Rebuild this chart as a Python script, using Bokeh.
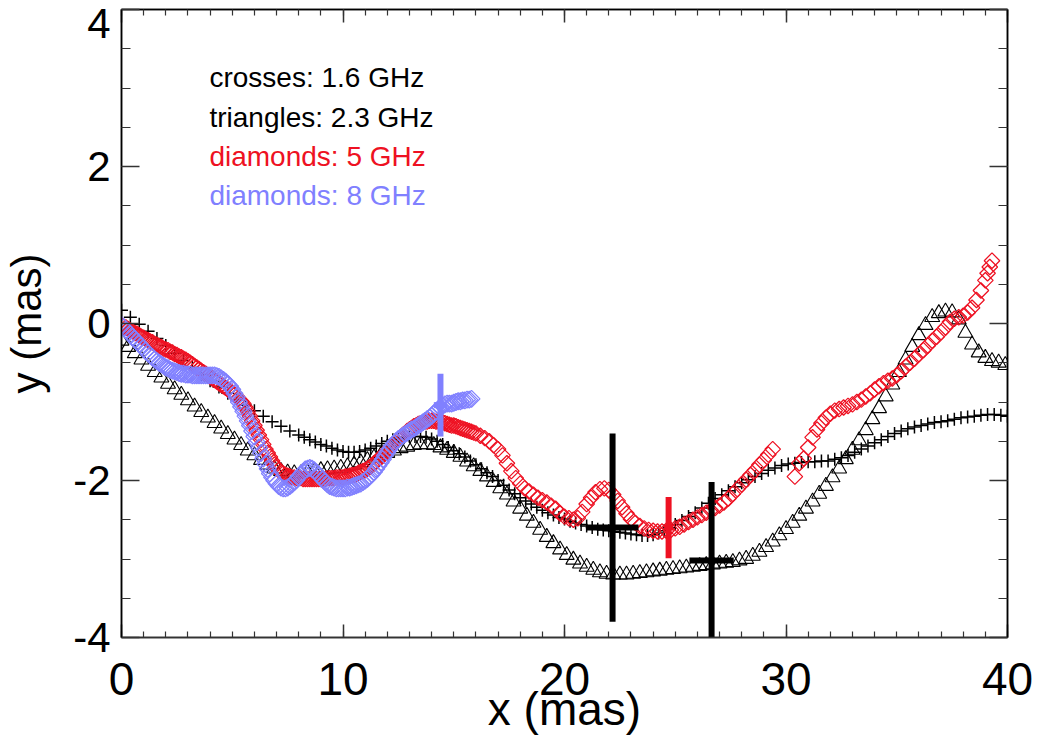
import math
from bokeh.plotting import figure
from bokeh.models import (LinearAxis, Range1d, ColumnDataSource,
                          SingleIntervalTicker, FixedTicker, CustomLabelingPolicy)
from bokeh.core.properties import value
from bokeh.embed import file_html
from bokeh.resources import INLINE

# ---------------- data ----------------
# 1.6 GHz (crosses)
cross_x = [0.0, 0.4, 0.8, 1.2, 1.6, 2.0, 2.4, 2.8, 3.2, 3.6,
           4.0, 4.4, 4.8, 5.2, 5.6, 6.0, 6.4, 6.8, 7.2, 7.6,
           8.0, 8.25, 8.5, 8.75, 9.0, 9.25, 9.5, 9.75, 10.0, 10.25,
           10.5, 10.75, 11.0, 11.25, 11.5, 11.75, 12.0, 12.25, 12.5, 12.75,
           13.0, 13.25, 13.5, 13.75, 14.0, 14.25, 14.5, 14.75, 15.0, 15.25,
           15.5, 15.75, 16.0, 16.25, 16.5, 16.75, 17.0, 17.25, 17.5, 17.75,
           18.0, 18.25, 18.5, 18.75, 19.0, 19.25, 19.5, 19.75, 20.0, 20.25,
           20.5, 20.75, 21.0, 21.25, 21.5, 21.75, 22.0, 22.25, 22.5, 22.75,
           23.0, 23.25, 23.5, 23.75, 24.0, 24.25, 24.5, 24.75, 25.0, 25.3,
           25.6, 25.9, 26.2, 26.5, 26.8, 27.1, 27.4, 27.7, 28.0, 28.3,
           28.6, 28.9, 29.2, 29.5, 29.8, 30.1, 30.4, 30.7, 31.0, 31.3,
           31.6, 31.9, 32.2, 32.5, 32.8, 33.1, 33.4, 33.7, 34.0, 34.3,
           34.6, 34.9, 35.2, 35.5, 35.8, 36.1, 36.4, 36.7, 37.0, 37.3,
           37.6, 37.9, 38.2, 38.5, 38.8, 39.1, 39.4, 39.7, 40.0]
cross_y = [0.17, 0.08, -0.01, -0.10, -0.19, -0.28, -0.38, -0.47, -0.56, -0.65,
           -0.73, -0.81, -0.89, -0.97, -1.04, -1.11, -1.18, -1.25, -1.31, -1.37,
           -1.42, -1.45, -1.48, -1.51, -1.54, -1.56, -1.59, -1.61, -1.63, -1.64,
           -1.64, -1.63, -1.61, -1.59, -1.56, -1.53, -1.50, -1.48, -1.46, -1.45,
           -1.44, -1.44, -1.44, -1.45, -1.47, -1.50, -1.54, -1.58, -1.62, -1.66,
           -1.70, -1.75, -1.80, -1.85, -1.90, -1.95, -2.00, -2.06, -2.12, -2.17,
           -2.22, -2.26, -2.30, -2.34, -2.38, -2.41, -2.44, -2.47, -2.49, -2.52,
           -2.54, -2.56, -2.58, -2.60, -2.62, -2.63, -2.64, -2.65, -2.66, -2.67,
           -2.68, -2.69, -2.70, -2.70, -2.69, -2.67, -2.64, -2.60, -2.56, -2.51,
           -2.46, -2.41, -2.35, -2.29, -2.23, -2.18, -2.13, -2.08, -2.03, -1.99,
           -1.95, -1.91, -1.87, -1.84, -1.81, -1.79, -1.78, -1.77, -1.76, -1.76,
           -1.75, -1.75, -1.73, -1.71, -1.68, -1.64, -1.60, -1.56, -1.52, -1.48,
           -1.44, -1.40, -1.37, -1.34, -1.32, -1.30, -1.28, -1.26, -1.25, -1.24,
           -1.22, -1.20, -1.19, -1.18, -1.17, -1.16, -1.16, -1.17, -1.18]

# 2.3 GHz (triangles)
tri_x = [0.0, 0.3, 0.6, 0.9, 1.2, 1.5, 1.8, 2.1, 2.4, 2.7,
         3.0, 3.3, 3.6, 3.9, 4.2, 4.5, 4.8, 5.1, 5.4, 5.7,
         6.0, 6.3, 6.6, 6.9, 7.2, 7.5, 7.8, 8.1, 8.4, 8.7,
         9.0, 9.3, 9.6, 9.9, 10.2, 10.5, 10.8, 11.1, 11.4, 11.7,
         12.0, 12.3, 12.6, 12.9, 13.2, 13.5, 13.8, 14.1, 14.4, 14.7,
         15.0, 15.3, 15.6, 15.9, 16.2, 16.5, 16.8, 17.1, 17.4, 17.7,
         18.0, 18.3, 18.6, 18.9, 19.2, 19.5, 19.8, 20.1, 20.4, 20.7,
         21.0, 21.3, 21.6, 21.9, 22.2, 22.5, 22.8, 23.1, 23.4, 23.7,
         24.0, 24.3, 24.6, 24.9, 25.2, 25.5, 25.8, 26.1, 26.4, 26.7,
         27.0, 27.3, 27.6, 27.9, 28.2, 28.5, 28.8, 29.1, 29.4, 29.7,
         30.0, 30.3, 30.6, 30.9, 31.2, 31.5, 31.8, 32.1, 32.4, 32.7,
         33.0, 33.3, 33.6, 33.9, 34.2, 34.5, 34.8, 35.1, 35.4, 35.7,
         36.0, 36.3, 36.6, 36.9, 37.2, 37.5, 37.8, 38.1, 38.4, 38.7,
         39.0, 39.3, 39.6, 39.9]
tri_y = [-0.22, -0.30, -0.38, -0.46, -0.54, -0.62, -0.69, -0.77, -0.84, -0.91,
         -0.98, -1.06, -1.13, -1.20, -1.27, -1.34, -1.41, -1.48, -1.55, -1.62,
         -1.68, -1.74, -1.80, -1.85, -1.88, -1.90, -1.91, -1.91, -1.90, -1.88,
         -1.87, -1.86, -1.85, -1.84, -1.82, -1.80, -1.77, -1.74, -1.71, -1.68,
         -1.65, -1.62, -1.59, -1.57, -1.55, -1.54, -1.54, -1.55, -1.58, -1.61,
         -1.65, -1.70, -1.76, -1.82, -1.88, -1.95, -2.02, -2.10, -2.18, -2.27,
         -2.36, -2.45, -2.54, -2.63, -2.72, -2.80, -2.88, -2.95, -3.01, -3.06,
         -3.10, -3.14, -3.17, -3.19, -3.20, -3.20, -3.20, -3.19, -3.18, -3.17,
         -3.16, -3.15, -3.14, -3.13, -3.12, -3.11, -3.10, -3.09, -3.08, -3.07,
         -3.06, -3.05, -3.04, -3.02, -3.00, -2.96, -2.91, -2.85, -2.78, -2.70,
         -2.62, -2.54, -2.45, -2.36, -2.27, -2.17, -2.07, -1.96, -1.85, -1.73,
         -1.61, -1.49, -1.36, -1.22, -1.08, -0.93, -0.78, -0.62, -0.46, -0.30,
         -0.15, -0.02, 0.08, 0.13, 0.15, 0.14, 0.05, -0.12, -0.27, -0.37,
         -0.44, -0.48, -0.50, -0.53]

# 5 GHz (red diamonds)
red_x = [0.0, 0.1, 0.2, 0.3, 0.4, 0.5, 0.6, 0.7, 0.8, 0.9,
         1.0, 1.1, 1.2, 1.3, 1.4, 1.5, 1.6, 1.7, 1.8, 1.9,
         2.0, 2.1, 2.2, 2.3, 2.4, 2.5, 2.6, 2.7, 2.8, 2.9,
         3.0, 3.1, 3.2, 3.3, 3.4, 3.5, 3.6, 3.7, 3.8, 3.9,
         4.0, 4.1, 4.2, 4.3, 4.4, 4.5, 4.6, 4.7, 4.8, 4.9,
         5.0, 5.1, 5.2, 5.3, 5.4, 5.5, 5.6, 5.7, 5.8, 5.9,
         6.0, 6.1, 6.2, 6.3, 6.4, 6.5, 6.6, 6.7, 6.8, 6.9,
         7.0, 7.1, 7.2, 7.3, 7.4, 7.5, 7.6, 7.7, 7.8, 7.9,
         8.0, 8.1, 8.2, 8.3, 8.4, 8.5, 8.6, 8.7, 8.8, 8.9,
         9.0, 9.1, 9.2, 9.3, 9.4, 9.5, 9.6, 9.7, 9.8, 9.9,
         10.0, 10.1, 10.2, 10.3, 10.4, 10.5, 10.6, 10.7, 10.8, 10.9,
         11.0, 11.1, 11.2, 11.3, 11.4, 11.5, 11.6, 11.7, 11.8, 11.9,
         12.0, 12.1, 12.2, 12.3, 12.4, 12.5, 12.6, 12.7, 12.8, 12.9,
         13.0, 13.1, 13.2, 13.3, 13.4, 13.5, 13.6, 13.7, 13.8, 13.9,
         14.0, 14.1, 14.2, 14.3, 14.4, 14.5, 14.6, 14.7, 14.8, 14.9,
         15.0, 15.1, 15.2, 15.3, 15.4, 15.5, 15.6, 15.7, 15.8, 15.9,
         16.0, 16.2, 16.4, 16.6, 16.8, 17.0, 17.2, 17.4, 17.6, 17.8,
         18.0, 18.2, 18.4, 18.6, 18.8, 19.0, 19.2, 19.4, 19.6, 19.8,
         20.0, 20.2, 20.4, 20.6, 20.8, 21.0, 21.2, 21.4, 21.6, 21.8,
         22.0, 22.2, 22.4, 22.6, 22.8, 23.0, 23.2, 23.4, 23.6, 23.8,
         24.0, 24.2, 24.4, 24.6, 24.8, 25.0, 25.2, 25.4, 25.6, 25.8,
         26.0, 26.2, 26.4, 26.6, 26.8, 27.0, 27.2, 27.4, 27.6, 27.8,
         28.0, 28.2, 28.4, 28.6, 28.8, 29.0, 29.2, 29.4,
         30.4, 30.6, 30.8, 31.0, 31.2, 31.4, 31.6, 31.8, 32.0, 32.2,
         32.4, 32.6, 32.8, 33.0, 33.2, 33.4, 33.6, 33.8, 34.0, 34.2,
         34.4, 34.6, 34.8, 35.0, 35.2, 35.4, 35.6, 35.8, 36.0, 36.2,
         36.4, 36.6, 36.8, 37.0, 37.2, 37.4, 37.6, 37.8, 38.0, 38.2,
         38.4, 38.6, 38.8, 39.0, 39.1, 39.2, 39.3]
red_y = [-0.02, -0.04, -0.05, -0.07, -0.09, -0.10, -0.12, -0.13, -0.15, -0.17,
         -0.18, -0.20, -0.21, -0.23, -0.24, -0.26, -0.27, -0.29, -0.30, -0.32,
         -0.33, -0.34, -0.36, -0.37, -0.39, -0.40, -0.42, -0.43, -0.45, -0.46,
         -0.48, -0.50, -0.52, -0.54, -0.56, -0.58, -0.60, -0.62, -0.64, -0.66,
         -0.68, -0.70, -0.72, -0.74, -0.76, -0.78, -0.80, -0.82, -0.84, -0.86,
         -0.88, -0.91, -0.93, -0.96, -0.99, -1.02, -1.07, -1.12, -1.18, -1.24,
         -1.30, -1.36, -1.42, -1.48, -1.54, -1.60, -1.65, -1.70, -1.75, -1.80,
         -1.84, -1.87, -1.89, -1.91, -1.93, -1.94, -1.95, -1.96, -1.96, -1.97,
         -1.97, -1.97, -1.98, -1.98, -1.98, -1.98, -1.98, -1.98, -1.98, -1.98,
         -1.98, -1.98, -1.98, -1.97, -1.97, -1.97, -1.97, -1.96, -1.96, -1.96,
         -1.96, -1.95, -1.95, -1.94, -1.93, -1.93, -1.92, -1.90, -1.89, -1.88,
         -1.87, -1.85, -1.83, -1.81, -1.78, -1.76, -1.73, -1.71, -1.68, -1.65,
         -1.62, -1.59, -1.56, -1.53, -1.50, -1.47, -1.45, -1.42, -1.40, -1.37,
         -1.35, -1.33, -1.31, -1.30, -1.28, -1.27, -1.26, -1.25, -1.25, -1.24,
         -1.24, -1.24, -1.25, -1.25, -1.26, -1.26, -1.27, -1.28, -1.29, -1.30,
         -1.30, -1.31, -1.32, -1.33, -1.34, -1.35, -1.36, -1.37, -1.38, -1.39,
         -1.40, -1.43, -1.46, -1.50, -1.55, -1.60, -1.68, -1.78, -1.88, -1.97,
         -2.04, -2.10, -2.14, -2.18, -2.22, -2.25, -2.28, -2.32, -2.36, -2.42,
         -2.46, -2.48, -2.50, -2.48, -2.40, -2.30, -2.22, -2.15, -2.11, -2.10,
         -2.12, -2.18, -2.26, -2.34, -2.42, -2.49, -2.54, -2.58, -2.61, -2.63,
         -2.64, -2.65, -2.65, -2.64, -2.63, -2.61, -2.59, -2.56, -2.53, -2.50,
         -2.47, -2.44, -2.41, -2.38, -2.35, -2.32, -2.28, -2.23, -2.17, -2.11,
         -2.05, -1.99, -1.93, -1.87, -1.80, -1.74, -1.67, -1.60,
         -1.95, -1.78, -1.72, -1.58, -1.45, -1.35, -1.27, -1.20, -1.15, -1.11,
         -1.09, -1.07, -1.05, -1.03, -1.00, -0.97, -0.93, -0.89, -0.84, -0.80,
         -0.76, -0.73, -0.70, -0.66, -0.61, -0.55, -0.50, -0.45, -0.39, -0.34,
         -0.28, -0.22, -0.17, -0.11, -0.05, 0.02, 0.06, 0.08, 0.10, 0.14,
         0.20, 0.30, 0.42, 0.55, 0.64, 0.72, 0.80]

# 8 GHz (blue diamonds)
blue_x = [0.0, 0.1, 0.2, 0.3, 0.4, 0.5, 0.6, 0.7, 0.8, 0.9,
          1.0, 1.1, 1.2, 1.3, 1.4, 1.5, 1.6, 1.7, 1.8, 1.9,
          2.0, 2.1, 2.2, 2.3, 2.4, 2.5, 2.6, 2.7, 2.8, 2.9,
          3.0, 3.1, 3.2, 3.3, 3.4, 3.5, 3.6, 3.7, 3.8, 3.9,
          4.0, 4.1, 4.2, 4.3, 4.4, 4.5, 4.6, 4.7, 4.8, 4.9,
          5.0, 5.1, 5.2, 5.3, 5.4, 5.5, 5.6, 5.7, 5.8, 5.9,
          6.0, 6.1, 6.2, 6.3, 6.4, 6.5, 6.6, 6.7, 6.8, 6.9,
          7.0, 7.1, 7.2, 7.3, 7.4, 7.5, 7.6, 7.7, 7.8, 7.9,
          8.0, 8.1, 8.2, 8.3, 8.4, 8.5, 8.6, 8.7, 8.8, 8.9,
          9.0, 9.1, 9.2, 9.3, 9.4, 9.5, 9.6, 9.7, 9.8, 9.9,
          10.0, 10.1, 10.2, 10.3, 10.4, 10.5, 10.6, 10.7, 10.8, 10.9,
          11.0, 11.1, 11.2, 11.3, 11.4, 11.5, 11.6, 11.7, 11.8, 11.9,
          12.0, 12.1, 12.2, 12.3, 12.4, 12.5, 12.6, 12.7, 12.8, 12.9,
          13.0, 13.1, 13.2, 13.3, 13.4, 13.5, 13.6, 13.7, 13.8, 13.9,
          14.0, 14.1, 14.2, 14.3, 14.4, 14.5, 14.6, 14.7, 14.8, 14.9,
          15.0, 15.1, 15.2, 15.3, 15.4, 15.5, 15.6, 15.7, 15.8]
blue_y = [-0.02, -0.05, -0.08, -0.11, -0.14, -0.17, -0.20, -0.23, -0.26, -0.29,
          -0.32, -0.35, -0.38, -0.41, -0.43, -0.46, -0.48, -0.50, -0.52, -0.54,
          -0.56, -0.57, -0.59, -0.60, -0.61, -0.62, -0.63, -0.64, -0.64, -0.65,
          -0.65, -0.65, -0.66, -0.66, -0.66, -0.66, -0.66, -0.66, -0.66, -0.66,
          -0.66, -0.66, -0.66, -0.67, -0.68, -0.70, -0.72, -0.74, -0.77, -0.80,
          -0.84, -0.89, -0.94, -1.00, -1.06, -1.12, -1.18, -1.24, -1.30, -1.37,
          -1.44, -1.51, -1.58, -1.65, -1.72, -1.79, -1.85, -1.91, -1.96, -2.00,
          -2.04, -2.07, -2.09, -2.10, -2.10, -2.09, -2.07, -2.05, -2.02, -1.99,
          -1.95, -1.92, -1.89, -1.86, -1.85, -1.84, -1.85, -1.87, -1.90, -1.93,
          -1.96, -1.99, -2.02, -2.05, -2.07, -2.08, -2.09, -2.10, -2.10, -2.10,
          -2.10, -2.10, -2.09, -2.09, -2.08, -2.07, -2.06, -2.05, -2.04, -2.02,
          -2.00, -1.98, -1.95, -1.92, -1.89, -1.85, -1.81, -1.77, -1.73, -1.68,
          -1.64, -1.60, -1.56, -1.53, -1.50, -1.47, -1.45, -1.43, -1.41, -1.39,
          -1.37, -1.35, -1.34, -1.32, -1.30, -1.28, -1.26, -1.24, -1.22, -1.20,
          -1.18, -1.15, -1.12, -1.09, -1.07, -1.05, -1.03, -1.02, -1.02, -1.02,
          -1.01, -1.00, -0.99, -0.99, -0.98, -0.98, -0.97, -0.97, -0.96]

# representative error crosses
err_x = [22.17, 26.64, 24.70, 14.40]
err_y = [-2.60, -3.02, -2.60, -1.04]
err_dx = [1.17, 1.00, 0.20, 0.30]
err_dy = [1.20, 1.00, 0.39, 0.40]
err_color = ["black", "black", "#ee1122", "#8080ff"]

legend_labels = ["crosses: 1.6 GHz", "triangles: 2.3 GHz",
                 "diamonds: 5 GHz", "diamonds: 8 GHz"]
legend_colors = ["black", "black", "#ee1122", "#8080ff"]

y_label_ticks = [-4, -2, 0, 2, 4]
y_label_texts = ["-4", "-2", "0", "2", "4"]
x_ticks_interval = 10
y_ticks_interval = 2

# ---------------- figure ----------------
FRAME_W, FRAME_H = 886, 628
Y0, Y1 = -4, 4
p = figure(frame_width=FRAME_W, frame_height=FRAME_H,
           x_range=Range1d(0, 40), y_range=Range1d(Y0, Y1),
           output_backend="svg", toolbar_location=None,
           min_border_left=121, min_border_right=28,
           min_border_top=9, min_border_bottom=99)
p.background_fill_color = "white"
p.border_fill_color = "white"
p.grid.visible = False
p.outline_line_color = "black"
p.outline_line_width = 1.5

REG = "Liberation Sans"
TICK_COLOR = "#333333"
HIDE_ALL = CustomLabelingPolicy(code="for (const i of indices) indices.unset(i)")

xa = p.xaxis[0]
xa.ticker = SingleIntervalTicker(interval=x_ticks_interval, num_minor_ticks=10)
xa.major_tick_in = 13
xa.major_tick_out = 0
xa.minor_tick_in = 6
xa.minor_tick_out = 0
xa.major_tick_line_color = TICK_COLOR
xa.minor_tick_line_color = TICK_COLOR
xa.major_tick_line_width = 1.5
xa.minor_tick_line_width = 1.2
xa.axis_line_color = TICK_COLOR
xa.axis_line_width = 1.5
xa.major_label_text_font = REG
xa.major_label_text_font_size = "46px"
xa.major_label_text_color = "black"
xa.major_label_standoff = 25
xa.axis_label = "x (mas)"
xa.axis_label_text_font = REG
xa.axis_label_text_font_size = "46px"
xa.axis_label_text_font_style = "normal"
xa.axis_label_text_color = "black"
xa.axis_label_standoff = -15

# inner left axis: ticks only (no labels, no size)
ya = p.yaxis[0]
ya.ticker = SingleIntervalTicker(interval=y_ticks_interval, num_minor_ticks=4)
ya.major_tick_in = 18
ya.major_tick_out = 0
ya.minor_tick_in = 9
ya.minor_tick_out = 0
ya.major_tick_line_color = TICK_COLOR
ya.minor_tick_line_color = TICK_COLOR
ya.major_tick_line_width = 1.5
ya.minor_tick_line_width = 1.2
ya.axis_line_color = "black"
ya.axis_line_width = 1.5
ya.major_label_text_font_size = "0px"
ya.major_label_standoff = 0
ya.major_label_policy = HIDE_ALL

# outer left axis: carries the tick labels and the axis title.
# The top label is nudged below the frame top so it stays inside the canvas.
TOP_SHIFT = 14 * (Y1 - Y0) / FRAME_H
label_pos = [t if t < Y1 else t - TOP_SHIFT for t in y_label_ticks]
lab_axis = LinearAxis(
    ticker=FixedTicker(ticks=label_pos, minor_ticks=[]),
    major_label_overrides={pos: txt for pos, txt in zip(label_pos, y_label_texts)},
    axis_line_color=None, major_tick_line_color=None, minor_tick_line_color=None,
    major_tick_in=0, major_tick_out=0, minor_tick_in=0, minor_tick_out=0,
    major_label_text_font=REG, major_label_text_font_size="42px",
    major_label_text_color="black", major_label_standoff=11,
    axis_label="y (mas)", axis_label_text_font=REG,
    axis_label_text_font_size="42px", axis_label_text_font_style="normal",
    axis_label_text_color="black", axis_label_standoff=20)
p.add_layout(lab_axis, "left")

top = LinearAxis(ticker=SingleIntervalTicker(interval=x_ticks_interval, num_minor_ticks=10),
                 major_label_text_font_size="0px", major_label_standoff=0,
                 major_label_policy=HIDE_ALL,
                 major_tick_in=13, major_tick_out=0, minor_tick_in=6, minor_tick_out=0,
                 major_tick_line_color=TICK_COLOR, minor_tick_line_color=TICK_COLOR,
                 major_tick_line_width=1.5, minor_tick_line_width=1.2,
                 axis_line_color="black", axis_line_width=1.5)
p.add_layout(top, "above")
right = LinearAxis(ticker=SingleIntervalTicker(interval=y_ticks_interval, num_minor_ticks=4),
                   major_label_text_font_size="0px", major_label_standoff=0,
                   major_label_policy=HIDE_ALL,
                   major_tick_in=18, major_tick_out=0, minor_tick_in=9, minor_tick_out=0,
                   major_tick_line_color=TICK_COLOR, minor_tick_line_color=TICK_COLOR,
                   major_tick_line_width=1.5, minor_tick_line_width=1.2,
                   axis_line_color="black", axis_line_width=1.5)
p.add_layout(right, "right")

# ---------------- glyphs ----------------
p.scatter(cross_x, cross_y, marker="cross", size=13,
          line_color="black", line_width=1.5)
p.scatter(tri_x, tri_y, marker="triangle", size=15, fill_color=None,
          line_color="black", line_width=1.1)
p.scatter(red_x, red_y, marker="square", angle=math.pi / 4, size=11,
          fill_color=None, line_color="#ee1122", line_width=1.25)
p.scatter(blue_x, blue_y, marker="square", angle=math.pi / 4, size=12,
          fill_color=None, line_color="#8080ff", line_width=1.25)

err_src = ColumnDataSource(dict(
    x=err_x, y=err_y, color=err_color,
    x0=[x - d for x, d in zip(err_x, err_dx)],
    x1=[x + d for x, d in zip(err_x, err_dx)],
    y0=[y - d for y, d in zip(err_y, err_dy)],
    y1=[y + d for y, d in zip(err_y, err_dy)],
))
p.segment(x0="x0", x1="x1", y0="y", y1="y", color="color", line_width=6,
          line_cap="butt", source=err_src)
p.segment(x0="x", x1="x", y0="y0", y1="y1", color="color", line_width=6,
          line_cap="butt", source=err_src)

LEGEND_X = 3.97
LEGEND_Y = [3.13, 2.63, 2.13, 1.63]
p.text(x=[LEGEND_X] * len(legend_labels), y=LEGEND_Y, text=legend_labels,
       text_color=legend_colors, text_font=value(REG), text_font_size="28px",
       text_align="left", text_baseline="alphabetic")

open("out.html", "w").write(file_html(p, INLINE))
